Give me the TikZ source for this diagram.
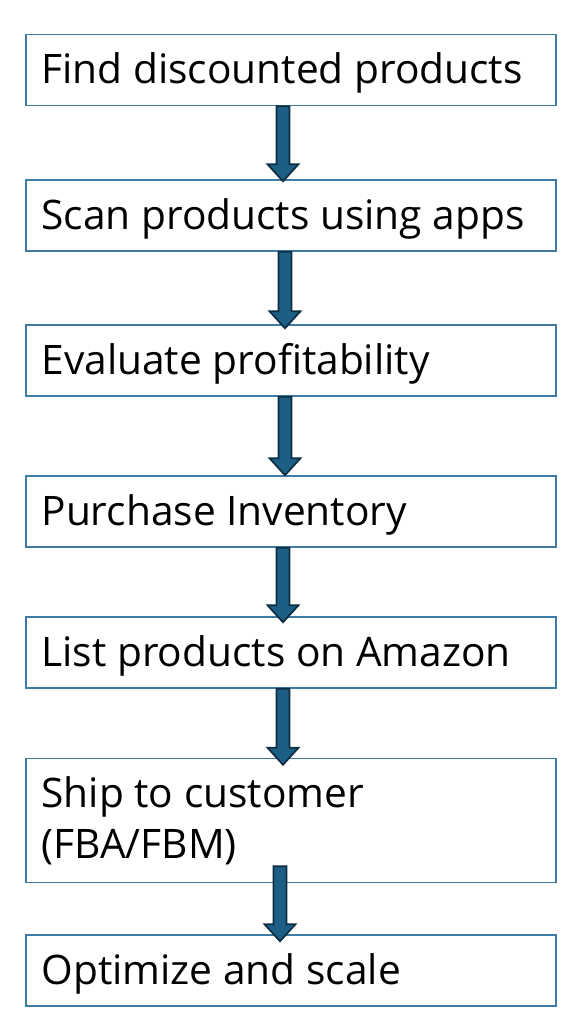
\documentclass[tikz,border=0pt]{standalone}
\usepackage{fontspec}
\setmainfont{Open Sans}
\usetikzlibrary{calc}
\definecolor{boxblue}{HTML}{3F7BA4}
\definecolor{arrfill}{HTML}{1D5F84}
\definecolor{arrline}{HTML}{0D2E42}
\tikzset{
  stepbox/.style={draw=boxblue, line width=1.1pt, fill=white, minimum width=397.5pt, minimum height=53.25pt, inner sep=0pt},
  steptext/.style={anchor=base west, inner sep=0pt, align=left, font=\fontsize{30.5pt}{38pt}\selectfont},
  blockarrow/.style={fill=arrfill, draw=arrline, line width=1.3pt, line join=miter}
}
\newcommand\flowarrow[2]{%
  \path[blockarrow] let \p1=(#1), \p2=(#2) in
    (\x1-4.9pt,\y1) -- (\x1-4.9pt,\y2+12.75pt) -- (\x1-11.6pt,\y2+12.75pt) -- (\x1,\y2)
    -- (\x1+11.6pt,\y2+12.75pt) -- (\x1+4.9pt,\y2+12.75pt) -- (\x1+4.9pt,\y1) -- cycle;}
\begin{document}
\begin{tikzpicture}[x=0.75pt,y=-0.75pt]
\useasboundingbox (0,0) rectangle (579,1024);
% boxes
\node[stepbox] (b1) at (291,70) {};
\node[stepbox] (b2) at (291,215.5) {};
\node[stepbox] (b3) at (291,360.5) {};
\node[stepbox] (b4) at (291,511.5) {};
\node[stepbox] (b5) at (291,652.5) {};
\node[stepbox, minimum height=93pt] (b6) at (291,820.5) {};
\node[stepbox] (b7) at (291,970.5) {};
% texts
\node[steptext] (t1) at ($(b1.west)+(16,13.5)$) {Find discounted products};
\node[steptext] (t2) at ($(b2.west)+(16,13.5)$) {Scan products using apps};
\node[steptext] (t3) at ($(b3.west)+(16,13.5)$) {Evaluate profitability};
\node[steptext] (t4) at ($(b4.west)+(16,13.5)$) {Purchase Inventory};
\node[steptext] (t5) at ($(b5.west)+(16,13.5)$) {List products on Amazon};
\node[steptext] (t6) at ($(b6.west)+(16,38)$) {Ship to customer\\(FBA/FBM)};
\node[steptext] (t7) at ($(b7.west)+(16,13.5)$) {Optimize and scale};
% arrow end points
\coordinate (a1s) at ($(b1.south)+(-8,0)$);
\coordinate (a1e) at ($(b2.north)+(-8,2)$);
\coordinate (a2s) at ($(b2.south)+(-6,0)$);
\coordinate (a2e) at ($(b3.north)+(-6,4)$);
\coordinate (a3s) at ($(b3.south)+(-6,0)$);
\coordinate (a3e) at ($(b4.north)+(-6,0)$);
\coordinate (a4s) at ($(b4.south)+(-8,0)$);
\coordinate (a4e) at ($(b5.north)+(-8,6)$);
\coordinate (a5s) at ($(b5.south)+(-8,0)$);
\coordinate (a5e) at ($(b6.north)+(-8,7)$);
\coordinate (a6s) at ($(b6.south)+(-11,-17)$);
\coordinate (a6e) at ($(b7.north)+(-11,7)$);
% arrows
\flowarrow{a1s}{a1e}
\flowarrow{a2s}{a2e}
\flowarrow{a3s}{a3e}
\flowarrow{a4s}{a4e}
\flowarrow{a5s}{a5e}
\flowarrow{a6s}{a6e}
\end{tikzpicture}
\end{document}
